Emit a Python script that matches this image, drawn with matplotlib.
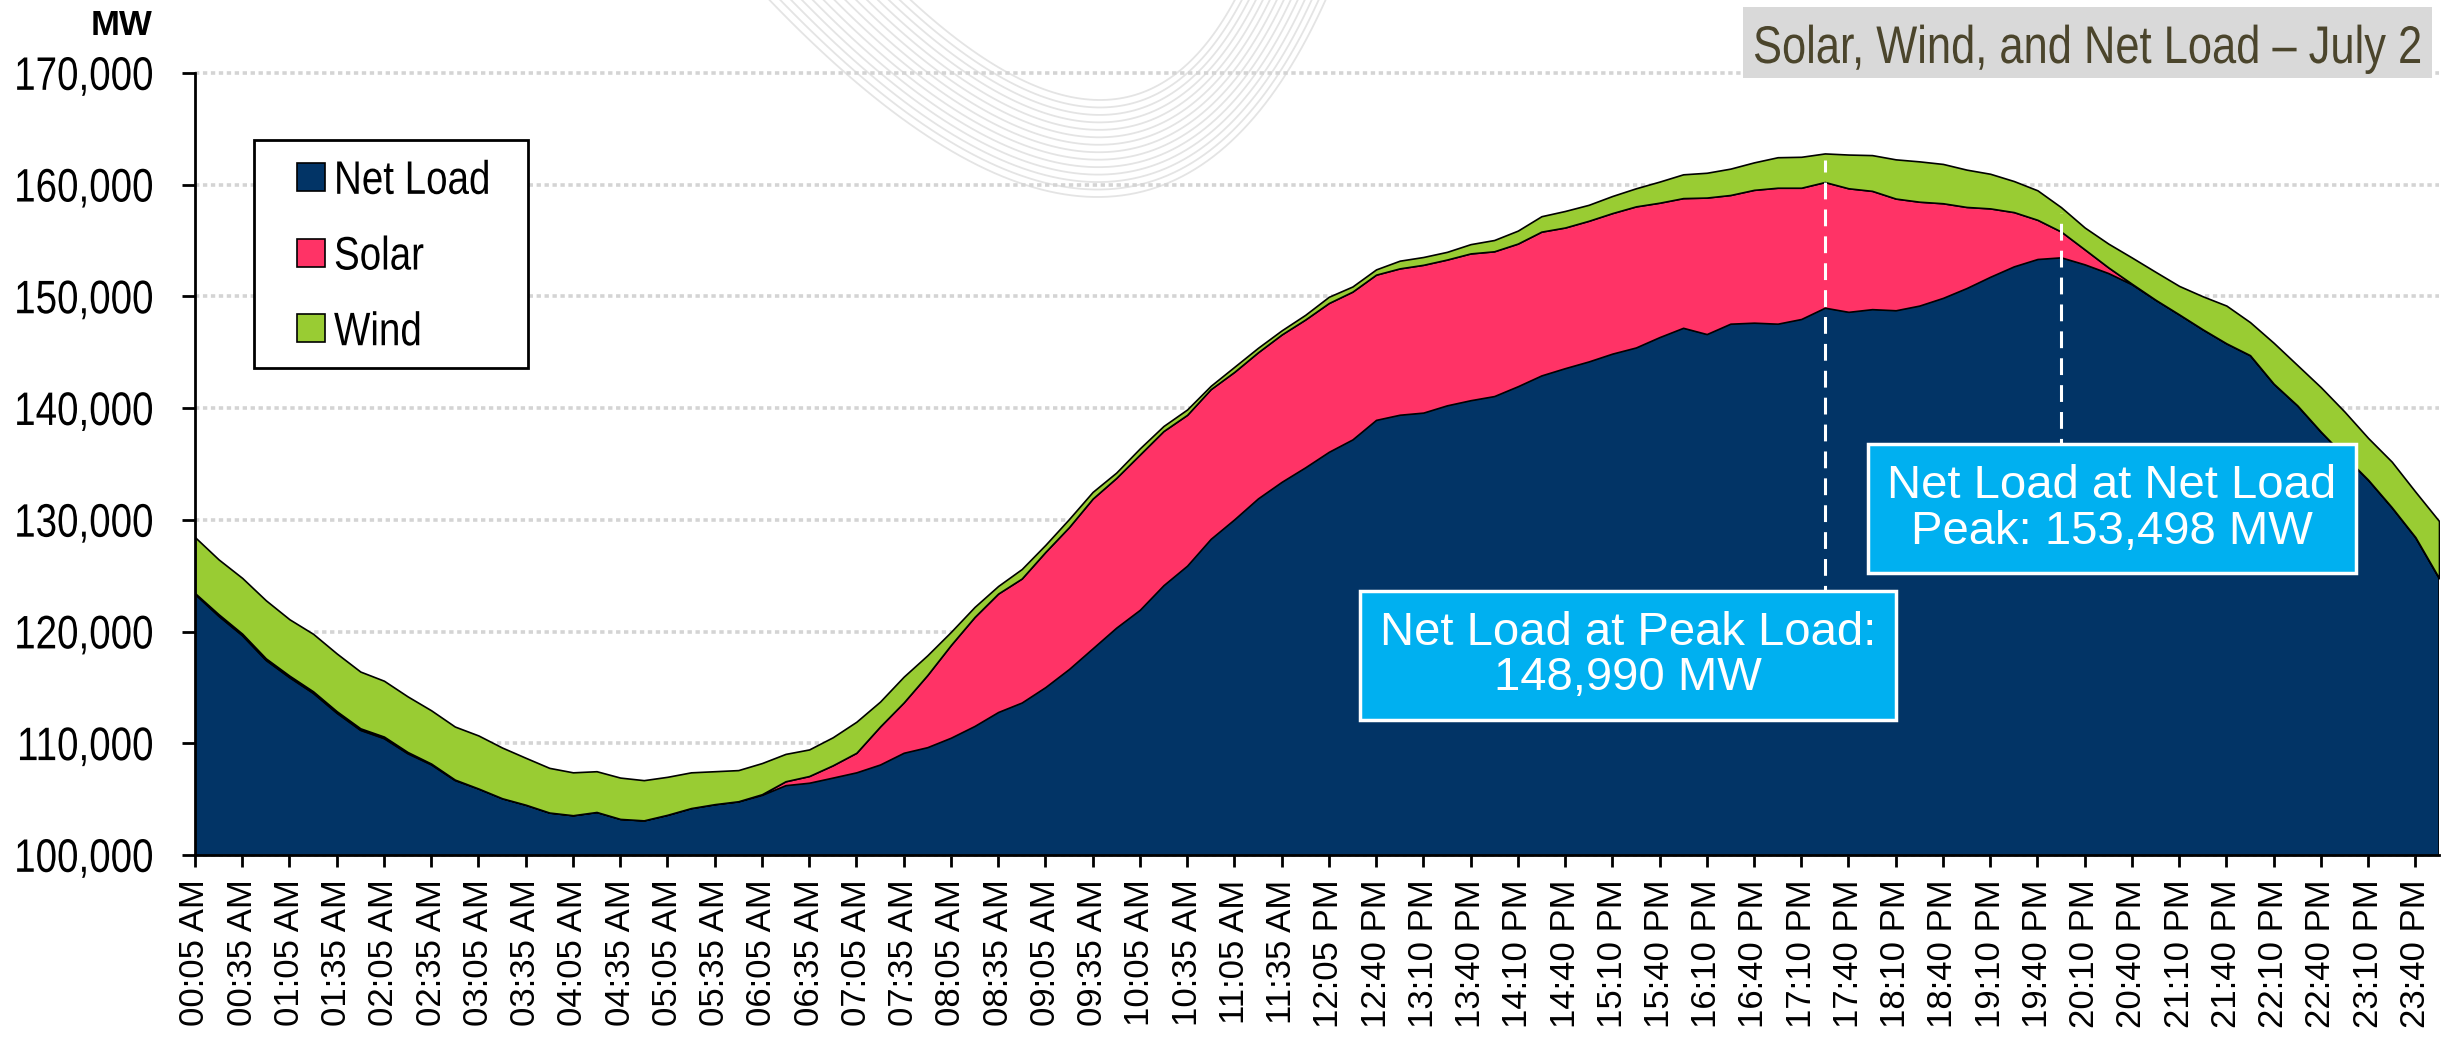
import numpy as np
import matplotlib.pyplot as plt
from matplotlib.patches import Patch, Rectangle, PathPatch
from matplotlib.textpath import TextPath
from matplotlib.font_manager import FontProperties
from matplotlib.transforms import Affine2D
from matplotlib import font_manager

# readings every 15 minutes (every 3rd 5-min interval), MW
net_load = [123360, 121400, 119660, 117450, 115900, 114500, 112720, 111190, 110450, 109100,
            108100, 106700, 105950, 105080, 104500, 103800, 103560, 103850, 103230, 103100,
            103600, 104200, 104550, 104800, 105380, 106250, 106470, 106930, 107400, 108100,
            109150, 109650, 110500, 111550, 112800, 113650, 115030, 116650, 118500, 120350,
            121950, 124150, 125900, 128300, 130050, 131920, 133400, 134700, 136090, 137200,
            138950, 139410, 139600, 140250, 140710, 141080, 141960, 142930, 143580, 144180,
            144880, 145430, 146360, 147190, 146630, 147560, 147650, 147560, 147980, 148990,
            148620, 148860, 148760, 149180, 149870, 150750, 151760, 152690, 153350, 153498,
            152870, 152090, 151080, 149700, 148390, 147050, 145800, 144740, 142190, 140250,
            137890, 135710, 133590, 131130, 128450, 124800]
solar = [80, 150, 150, 150, 150, 150, 150, 150, 150, 120,
         80, 50, 0, 0, 0, 0, 0, 0, 0, 0,
         0, 0, 0, 10, 60, 350, 600, 1100, 1750, 3400,
         4500, 6450, 8300, 9750, 10600, 11100, 12100, 12700, 13400, 13400,
         13900, 13800, 13500, 13400, 13200, 13080, 13190, 13230, 13320, 13230,
         13000, 13100, 13230, 13050, 13140, 12960, 12770, 12870, 12590, 12590,
         12580, 12630, 12030, 11610, 12220, 11520, 11890, 12170, 11750, 11250,
         11060, 10590, 10000, 9300, 8470, 7260, 6120, 4860, 3510, 2310,
         1340, 510, 50, 0, 0, 0, 0, 0, 0, 0,
         0, 0, 0, 0, 0, 0]
wind = [5010, 4910, 4990, 5200, 5050, 5150, 5170, 5080, 5000, 4980,
        4770, 4750, 4750, 4540, 4200, 4000, 3840, 3650, 3700, 3600,
        3400, 3200, 2950, 2790, 2790, 2450, 2380, 2510, 2780, 2230,
        2310, 1770, 1170, 900, 680, 850, 630, 720, 600, 480,
        550, 450, 480, 300, 450, 400, 370, 420, 560, 460,
        470, 690, 700, 690, 830, 1010, 1160, 1380, 1480, 1430,
        1530, 1620, 1890, 2130, 2220, 2360, 2460, 2730, 2770, 2560,
        3020, 3200, 3510, 3610, 3520, 3340, 3100, 2780, 2640, 2180,
        1960, 2130, 2350, 2500, 2550, 2960, 3380, 2960, 3660, 3610,
        3980, 3980, 3740, 4080, 4070, 5100]

series_names = ["Net Load", "Solar", "Wind"]

tick_labels = ["00:05 AM", "00:35 AM", "01:05 AM", "01:35 AM", "02:05 AM", "02:35 AM",
               "03:05 AM", "03:35 AM", "04:05 AM", "04:35 AM", "05:05 AM", "05:35 AM",
               "06:05 AM", "06:35 AM", "07:05 AM", "07:35 AM", "08:05 AM", "08:35 AM",
               "09:05 AM", "09:35 AM", "10:05 AM", "10:35 AM", "11:05 AM", "11:35 AM",
               "12:05 PM", "12:40 PM", "13:10 PM", "13:40 PM", "14:10 PM", "14:40 PM",
               "15:10 PM", "15:40 PM", "16:10 PM", "16:40 PM", "17:10 PM", "17:40 PM",
               "18:10 PM", "18:40 PM", "19:10 PM", "19:40 PM", "20:10 PM", "20:40 PM",
               "21:10 PM", "21:40 PM", "22:10 PM", "22:40 PM", "23:10 PM", "23:40 PM"]
y_ticks = [100000, 110000, 120000, 130000, 140000, 150000, 160000, 170000]

title = "Solar, Wind, and Net Load \u2013 July 2"
peak_load_text = "Net Load at Peak Load:\n148,990 MW"
net_peak_text = "Net Load at Net Load\nPeak: 153,498 MW"

# colours
c_net = "#023466"
c_solar = "#FF3366"
c_wind = "#99CC33"
c_box = "#00B0F0"
colors = [c_net, c_solar, c_wind]

names = {f.name for f in font_manager.fontManager.ttflist}
regular = "Liberation Sans" if "Liberation Sans" in names else "DejaVu Sans"
plt.rcParams["font.family"] = [regular, "DejaVu Sans"]

W, H = 2447, 1041
fig = plt.figure(figsize=(W / 100, H / 100), dpi=100)


def narrow_text(x_px, y_top_px, s, em_px, ha="left", color="black", zorder=8, squeeze=0.82):
    # arial-narrow look: regular glyph outlines squeezed horizontally.
    # y_top_px is the baseline, measured from the top of the figure
    tp = TextPath((0, 0), s, size=em_px, prop=FontProperties(family=regular))
    ext = tp.get_extents()
    if ha == "right":
        dx = -ext.x1 * squeeze
    elif ha == "center":
        dx = -(ext.x0 + ext.x1) / 2 * squeeze
    else:
        dx = 0
    tr = Affine2D().scale(squeeze, 1).translate(x_px + dx, H - y_top_px)
    fig.add_artist(PathPatch(tp, transform=tr, facecolor=color, edgecolor="none",
                             zorder=zorder))


# faint watermark swirl behind the plot
bg = fig.add_axes([0, 0, 1, 1], zorder=-1)
bg.set_xlim(0, W)
bg.set_ylim(H, 0)
bg.axis("off")
t = np.linspace(0, 1, 80)
for i in range(14):
    f = i / 13
    p0 = np.array([760 + 140 * f, -10])
    p2 = np.array([1330 - 90 * f, -10])
    p1 = np.array([1150 - 20 * f, 2 * (197 - 97 * f) + 10])
    pts = ((1 - t) ** 2)[:, None] * p0 + (2 * t * (1 - t))[:, None] * p1 + (t ** 2)[:, None] * p2
    bg.plot(pts[:, 0], pts[:, 1], color="#e4e4e4", linewidth=1.3)

net_load = np.array(net_load, dtype=float)
solar = np.array(solar, dtype=float)
wind = np.array(wind, dtype=float)
x = np.arange(len(net_load)) * 3  # position in 5-min intervals
solar_top = net_load + solar
total = solar_top + wind

ax = fig.add_axes([195 / W, 1 - 855 / H, (2439 - 195) / W, (855 - 73) / H])
ax.set_facecolor("none")

ax.fill_between(x, 0, net_load, facecolor=c_net, edgecolor="black", linewidth=1.2, zorder=2)
ax.fill_between(x, net_load, solar_top, facecolor=c_solar, edgecolor="black", linewidth=1.2, zorder=2)
ax.fill_between(x, solar_top, total, facecolor=c_wind, edgecolor="black", linewidth=1.2, zorder=2)

ax.set_xlim(0, x[-1])
ax.set_ylim(y_ticks[0], y_ticks[-1])

for s in ["top", "right"]:
    ax.spines[s].set_visible(False)
for s in ["left", "bottom"]:
    ax.spines[s].set_linewidth(2)
    ax.spines[s].set_zorder(3)

ax.set_yticks(y_ticks)
ax.set_xticks(np.arange(len(tick_labels)) * 6)
ax.set_xticklabels(tick_labels, rotation=90)
ax.tick_params(axis="y", direction="out", length=9.5, width=2, labelleft=False)
ax.tick_params(axis="x", direction="out", length=8.5, width=2, pad=9, labelsize=25)

ax.set_axisbelow(True)
ax.yaxis.grid(True, color="#d4d4d4", linewidth=2.6, linestyle=(0, (1.2, 1.0)))
for gl in ax.get_ygridlines():
    gl.set_clip_on(False)

# y tick labels in a narrow face
for v in y_ticks:
    _, yd = ax.transData.transform((0, v))
    narrow_text(152, H - yd + 0.716 * 47 / 2, f"{v:,}", 47, ha="right")

# legend: plain square frame, square swatches
ax.add_patch(Rectangle((59 / 2244, (855 - 368) / 782), 274 / 2244, 228 / 782,
                       transform=ax.transAxes, facecolor="white", edgecolor="black",
                       linewidth=2, zorder=5))
for k, (name, col) in enumerate(zip(series_names, colors)):
    cy = 177 + 75.7 * k
    fig.add_artist(Rectangle((297 / W, 1 - (cy + 14) / H), 28 / W, 28 / H,
                             transform=fig.transFigure, facecolor=col,
                             edgecolor="black", linewidth=1.2, zorder=7))
    narrow_text(334, cy + 0.716 * 47 / 2, name, 47)

# dashed markers at peak load and net load peak
peak_i = int(np.argmax(total))
net_peak_i = int(np.argmax(net_load))
box1 = (0.6385, 0.2551)
box2 = (0.8543, 0.4427)
for i, (bx, by) in [(peak_i, box1), (net_peak_i, box2)]:
    top = (total[i] - y_ticks[0]) / (y_ticks[-1] - y_ticks[0])
    ax.axvline(x[i], ymin=by, ymax=top - 0.008, color="white", linewidth=2.2,
               linestyle=(0, (5.5, 3.3)), zorder=3)

for (bx, by), txt in [(box1, peak_load_text), (box2, net_peak_text)]:
    ax.text(bx, by, txt, transform=ax.transAxes, ha="center", va="center",
            fontsize=34, color="white", linespacing=1.05, zorder=7,
            bbox=dict(boxstyle="square,pad=0.42", facecolor=c_box,
                      edgecolor="white", linewidth=2.5))

# title box and unit label
fig.add_artist(Rectangle((1743 / W, 1 - 78 / H), 689 / W, 71 / H, transform=fig.transFigure,
                         facecolor="#d9d9d9", edgecolor="none", zorder=6))
narrow_text(2087.5, 63, title, 53, ha="center", color="#4b452c")
fig.text(152 / W, 1 - 35 / H, "MW", ha="right", va="baseline", fontsize=25,
         fontweight="bold")

fig.savefig("out.png", dpi=100)
